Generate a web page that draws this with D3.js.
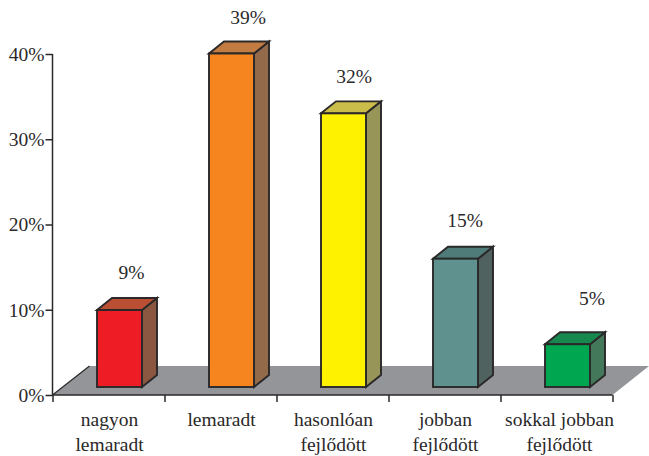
<!DOCTYPE html>
<html><head><meta charset="utf-8">
<script src="https://cdn.jsdelivr.net/npm/d3@7"></script>
<style>html,body{margin:0;padding:0;background:#fff}svg{display:block}
text{font-family:"Liberation Serif",serif;fill:#2a2829}</style>
</head><body><svg id="c" width="649" height="456"></svg>
<script>
const categories=[["nagyon","lemaradt"],["lemaradt"],["hasonlóan","fejlődött"],["jobban","fejlődött"],["sokkal jobban","fejlődött"]];
const values=[9,39,32,15,5];
const frontColors=["#ee1c25","#f6851f","#fff200","#5f918e","#00a650"];
const topColors=["#bb4f33","#c27c42","#cbbd4a","#4f7b78","#17894f"];
const sideColors=["#8c5740","#936b4b","#989558","#50625f","#43795a"];
const yTicks=[0,10,20,30,40];
const labelShiftX=[12,16.5,10.5,9.5,24.5];
const labelGap=[37,35.5,36,38,45];
const catShiftX=[1,1,1,1,3];

const ink="#2a2829",svg=d3.select("#c");
const x0=52.5,x1=612.5,yBase=395,yTop=54,dx=37,dy=29,barDx=15,barDy=12,barLift=8;
const y=d3.scaleLinear().domain([0,40]).range([yBase,yTop]);
const h=d3.scaleLinear().domain([0,39]).range([0,333.5]);
const group=d3.scaleBand().domain(d3.range(values.length)).range([x0,x1]);
const pts=p=>p.map(q=>q.join(",")).join(" ");

svg.append("polygon").attr("points",pts([[x0,yBase],[x0+dx,yBase-dy],[649,yBase-dy],[x1,yBase]])).attr("fill","#939598");
svg.append("path").attr("d",`M${x0},${yBase}L${x0+dx},${yBase-dy}`).attr("stroke",ink).attr("stroke-width",1.2);

const bars=svg.selectAll("g.bar").data(values).join("g").attr("class","bar");
const bx=(d,i)=>group(i)+44.5;
const by=d=>yBase-barLift-h(d), bw=45, bb=yBase-barLift;
bars.append("polygon").attr("fill",(d,i)=>sideColors[i]).attr("points",(d,i)=>{const l=bx(d,i)+bw;return pts([[l,bb],[l+barDx,bb-barDy],[l+barDx,by(d)-barDy],[l,by(d)]]);});
bars.append("polygon").attr("fill",(d,i)=>topColors[i]).attr("points",(d,i)=>{const l=bx(d,i),t=by(d);return pts([[l,t],[l+barDx,t-barDy],[l+bw+barDx,t-barDy],[l+bw,t]]);});
bars.append("rect").attr("fill",(d,i)=>frontColors[i]).attr("x",bx).attr("y",by).attr("width",bw).attr("height",d=>h(d));
bars.selectAll("polygon,rect").attr("stroke",ink).attr("stroke-width",1.9).attr("stroke-linejoin","miter");

const axisL=d3.axisLeft(y).tickValues(yTicks).tickSize(7).tickPadding(1).tickFormat(d=>d+"%");
const gl=svg.append("g").attr("transform",`translate(${x0},0)`).call(axisL);
gl.select(".domain").attr("d",`M0,${yTop}V${yBase}`).attr("stroke",ink).attr("stroke-width",1.5);
gl.selectAll("line").attr("stroke",ink).attr("stroke-width",1.5);
gl.selectAll("text").attr("font-size",19.5).style("font-family",'"Liberation Serif",serif').attr("fill",ink);

const axisB=d3.axisBottom(d3.scaleLinear().domain([0,values.length]).range([x0,x1])).ticks(values.length).tickSize(7).tickFormat("");
const gb=svg.append("g").attr("transform",`translate(0,${yBase})`).call(axisB);
gb.select(".domain").attr("d",`M${x0},0H${x1}`).attr("stroke",ink).attr("stroke-width",1.5);
gb.selectAll("line").attr("stroke",ink).attr("stroke-width",1.5);

svg.selectAll("text.cat").data(categories).join("text").attr("class","cat")
 .attr("text-anchor","middle").attr("font-size",19.5)
 .each(function(d,i){d3.select(this).selectAll("tspan").data(d).join("tspan")
   .attr("x",group(i)+group.bandwidth()/2+catShiftX[i]).attr("y",(t,j)=>426+j*25).text(t=>t);});

svg.selectAll("text.val").data(values).join("text").attr("class","val").attr("text-anchor","middle").attr("font-size",19.5)
 .attr("x",(d,i)=>bx(d,i)+bw/2+labelShiftX[i]).attr("y",(d,i)=>by(d)-labelGap[i]+6).text(d=>d+"%");
</script></body></html>
